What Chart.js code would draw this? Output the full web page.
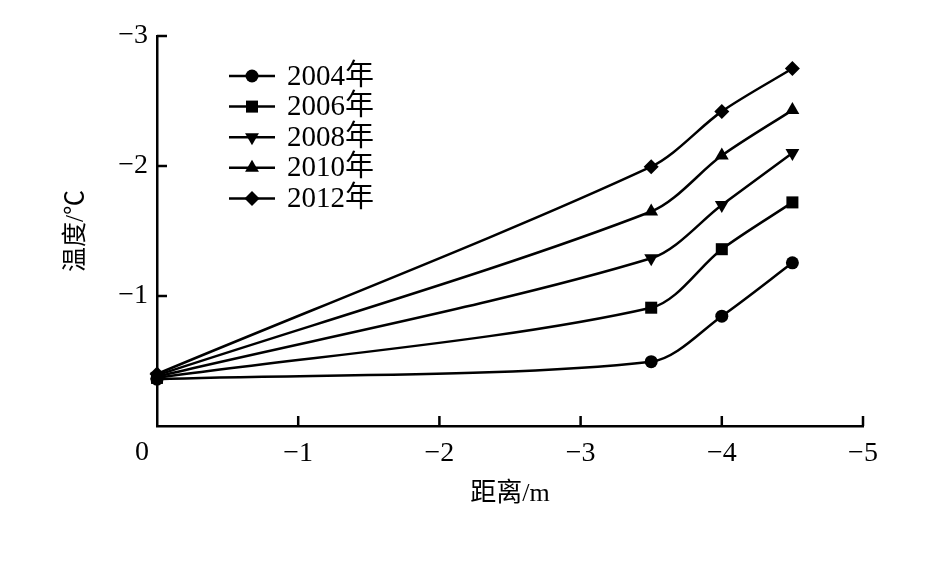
<!DOCTYPE html>
<html lang="zh">
<head>
    <meta charset="UTF-8">
    <title>温度-距离</title>
    <script src="https://cdn.jsdelivr.net/npm/chart.js@4.4.0/dist/chart.umd.min.js"></script>
    <style>
        body { margin: 0; background: #fff; }
        #wrap { width: 935px; height: 563px; }
    </style>
</head>
<body>
    <div id="wrap"><canvas id="chart" width="935" height="563"></canvas></div>

    <script>
        // Data
        const distances = [0, -3.5, -4, -4.5];
        const years = ['2004年', '2006年', '2008年', '2010年', '2012年'];
        const t2004 = [-0.36, -0.495, -0.845, -1.255];
        const t2006 = [-0.37, -0.91, -1.36, -1.72];
        const t2008 = [-0.38, -1.29, -1.70, -2.10];
        const t2010 = [-0.39, -1.65, -2.08, -2.43];
        const t2012 = [-0.40, -1.995, -2.42, -2.75];
        const xTicks = [0, -1, -2, -3, -4, -5];
        const yTicks = [0, -1, -2, -3];

        const serif = "'Liberation Serif', 'Noto Sans CJK SC', serif";

        // marker style per series
        const markers = [
            { style: 'circle', radius: 6.5, rotation: 0 },
            { style: 'rect', radius: 8.5, rotation: 0 },
            { style: 'triangle', radius: 8, rotation: 180 },
            { style: 'triangle', radius: 8, rotation: 0 },
            { style: 'rectRot', radius: 7.5, rotation: 0 }
        ];

        const series = [t2004, t2006, t2008, t2010, t2012];

        function minusLabel(v) {
            if (v === 0) return '';
            return (v < 0 ? '\u2212' : '') + Math.abs(v);
        }

        function drawMarker(ctx, m, x, y) {
            const r = m.radius;
            ctx.beginPath();
            if (m.style === 'circle') {
                ctx.arc(x, y, r, 0, Math.PI * 2);
            } else if (m.style === 'rect') {
                const s = r * Math.SQRT1_2;
                ctx.rect(x - s, y - s, 2 * s, 2 * s);
            } else if (m.style === 'triangle') {
                const rad = m.rotation * Math.PI / 180;
                for (let i = 0; i < 3; i++) {
                    const a = rad + i * 2 * Math.PI / 3;
                    const px = x + Math.sin(a) * r;
                    const py = y - Math.cos(a) * r;
                    if (i === 0) ctx.moveTo(px, py); else ctx.lineTo(px, py);
                }
                ctx.closePath();
            } else if (m.style === 'rectRot') {
                ctx.moveTo(x, y - r);
                ctx.lineTo(x + r, y);
                ctx.lineTo(x, y + r);
                ctx.lineTo(x - r, y);
                ctx.closePath();
            }
            ctx.fill();
        }

        // inward ticks, shared origin label and the legend
        const decor = {
            id: 'decor',
            afterDraw(chart) {
                const ctx = chart.ctx;
                const xs = chart.scales.x;
                const ys = chart.scales.y;
                const area = chart.chartArea;
                ctx.save();
                ctx.strokeStyle = '#000';
                ctx.lineWidth = 2.5;
                xTicks.forEach(v => {
                    if (v === 0) return;
                    const px = xs.getPixelForValue(v);
                    ctx.beginPath();
                    ctx.moveTo(px, area.bottom);
                    ctx.lineTo(px, area.bottom - 10);
                    ctx.stroke();
                });
                yTicks.forEach(v => {
                    if (v === 0) return;
                    const py = ys.getPixelForValue(v);
                    ctx.beginPath();
                    ctx.moveTo(area.left, py);
                    ctx.lineTo(area.left + 10, py);
                    ctx.stroke();
                });

                ctx.fillStyle = '#000';
                ctx.font = '28px ' + serif;
                ctx.textAlign = 'center';
                ctx.textBaseline = 'middle';
                ctx.fillText('0', area.left - 15, 453);

                // legend
                ctx.textAlign = 'left';
                ctx.font = '29px ' + serif;
                years.forEach((label, i) => {
                    const y = 76 + i * 30.6;
                    ctx.beginPath();
                    ctx.moveTo(229, y);
                    ctx.lineTo(275, y);
                    ctx.stroke();
                    drawMarker(ctx, markers[i], 252, y);
                    ctx.fillText(label, 287, y + 1);
                });
                ctx.restore();
            }
        };

        const datasets = series.map((vals, i) => ({
            label: years[i],
            data: distances.map((d, j) => ({ x: d, y: vals[j] })),
            borderColor: '#000',
            backgroundColor: '#000',
            borderWidth: 2.5,
            pointStyle: markers[i].style,
            pointRadius: markers[i].radius,
            pointRotation: markers[i].rotation,
            pointBorderWidth: 0,
            tension: 0.3,
            clip: false
        }));

        new Chart(document.getElementById('chart').getContext('2d'), {
            type: 'line',
            data: { datasets: datasets },
            options: {
                responsive: false,
                animation: false,
                layout: { padding: { left: 0, top: 36, right: 72, bottom: 0 } },
                plugins: {
                    legend: { display: false },
                    tooltip: { enabled: false }
                },
                scales: {
                    x: {
                        type: 'linear',
                        min: -5,
                        max: 0,
                        reverse: true,
                        afterBuildTicks: s => { s.ticks = xTicks.map(v => ({ value: v })); },
                        afterFit: s => { s.height = 137; },
                        grid: { display: false, drawTicks: false },
                        border: { display: true, color: '#000', width: 2.5 },
                        ticks: {
                            color: '#000',
                            font: { family: serif, size: 28 },
                            padding: 11,
                            maxRotation: 0,
                            callback: minusLabel
                        },
                        title: {
                            display: true,
                            text: '距离/m',
                            color: '#000',
                            font: { family: serif, size: 26 },
                            padding: { top: 0, bottom: 53 }
                        }
                    },
                    y: {
                        type: 'linear',
                        min: -3,
                        max: 0,
                        reverse: true,
                        afterBuildTicks: s => { s.ticks = yTicks.map(v => ({ value: v })); },
                        afterFit: s => { s.width = 157; },
                        grid: { display: false, drawTicks: false },
                        border: { display: true, color: '#000', width: 2.5 },
                        ticks: {
                            color: '#000',
                            font: { family: serif, size: 28 },
                            padding: 9,
                            callback: minusLabel
                        },
                        title: {
                            display: true,
                            text: '温度/℃',
                            color: '#000',
                            font: { family: serif, size: 25 },
                            padding: { top: 61, bottom: 0 }
                        }
                    }
                }
            },
            plugins: [decor]
        });
    </script>
</body>
</html>
